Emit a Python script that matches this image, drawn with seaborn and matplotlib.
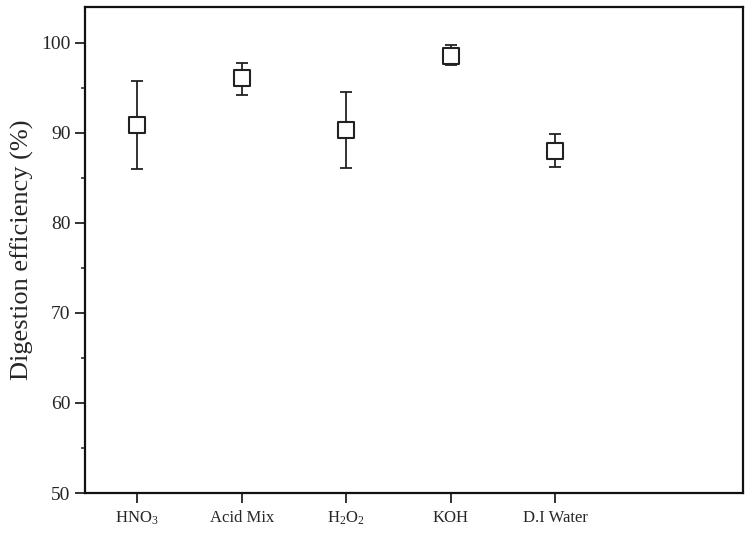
import numpy as np
import pandas as pd
import matplotlib
matplotlib.use("Agg")
import matplotlib.pyplot as plt
import seaborn as sns
from matplotlib.ticker import MultipleLocator

# data
methods = ["HNO$_3$", "Acid Mix", "H$_2$O$_2$", "KOH", "D.I Water"]
efficiency = [90.9, 96.1, 90.3, 98.6, 88.0]
upper = [95.8, 97.8, 94.6, 99.8, 89.9]
lower = [86.0, 94.2, 86.1, 97.5, 86.2]

sns.set_theme(style="ticks")
plt.rcParams["font.family"] = ["Liberation Serif", "DejaVu Serif"]
plt.rcParams["mathtext.fontset"] = "custom"
plt.rcParams["mathtext.rm"] = "Liberation Serif"
plt.rcParams["mathtext.it"] = "Liberation Serif"

df = pd.DataFrame({"method": methods, "eff": efficiency})
df["pos"] = np.arange(len(methods))
err = np.array([df["eff"] - np.array(lower), np.array(upper) - df["eff"]])

fig = plt.figure(figsize=(7.49, 5.35), dpi=100)
ax = fig.add_axes([0.1135, 0.0785, 0.8785, 0.9085])

ax.errorbar(df["pos"], df["eff"], yerr=err, fmt="none", ecolor="#222222",
            elinewidth=1.3, capsize=4.3, capthick=1.3, zorder=2)
sns.scatterplot(data=df, x="pos", y="eff", marker="s", s=140,
                facecolor="white", edgecolor="#222222", linewidth=1.5,
                zorder=3, ax=ax)

ax.set_xlim(-0.5, 5.8)
ax.set_ylim(50, 104)
ax.set_xticks(df["pos"])
ax.set_xticklabels(methods, fontsize=12)
ax.yaxis.set_major_locator(MultipleLocator(10))
ax.yaxis.set_minor_locator(MultipleLocator(5))
ax.tick_params(axis="y", labelsize=14)
ax.tick_params(axis="x", pad=5)
ax.tick_params(which="major", direction="out", length=7, width=1.3, color="#222222")
ax.tick_params(which="minor", direction="out", length=3, width=1.1, color="#222222")
ax.set_xlabel("")
ax.set_ylabel("Digestion efficiency (%)", fontsize=19, labelpad=5)
for sp in ax.spines.values():
    sp.set_visible(True)
    sp.set_linewidth(1.6)
    sp.set_color("#111111")

fig.savefig("out.png", dpi=100)
